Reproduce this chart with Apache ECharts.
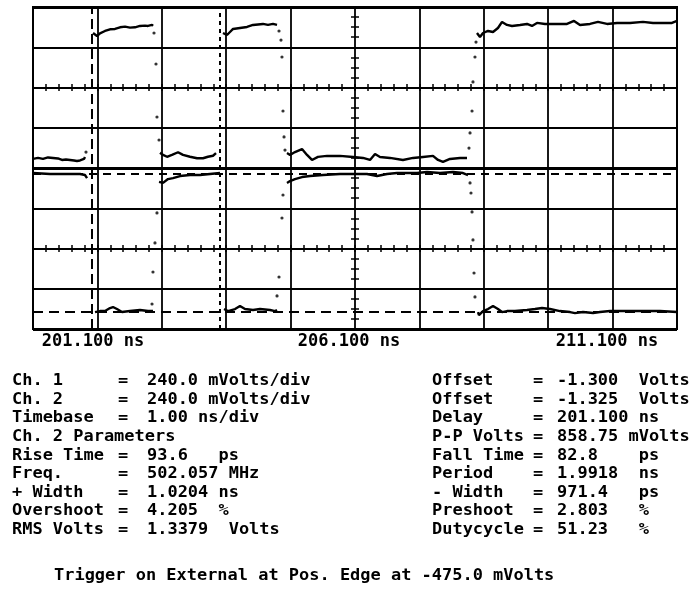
<!DOCTYPE html>
<html>
<head>
<meta charset="utf-8">
<script src="https://cdn.jsdelivr.net/npm/echarts@6/dist/echarts.min.js"></script>
<style>
  html, body { margin: 0; padding: 0; background: #fff; }
  #chart { width: 698px; height: 593px; }
</style>
</head>
<body>
<div id="chart"></div>
<script>
// Horizontal: ns after the 201.100 ns delay, 1 ns/div, 10 divisions.
const timeLabelAt = [0, 5, 10];
const timeLabels = ['201.100 ns', '206.100 ns', '211.100 ns'];

// Vertical scale (V/div) and centre offset (V) of each channel.
const ch1Scale = 0.24, ch1Offset = -1.300;
const ch2Scale = 0.24, ch2Offset = -1.325;

// Channel 1 sampled bursts [ns, V]
const ch1Sweeps = [
  [[0.000,-1.246],[0.078,-1.240],[0.155,-1.246],[0.233,-1.237],[0.311,-1.240],[0.388,-1.243],[0.450,-1.252],[0.512,-1.249],[0.575,-1.252],[0.637,-1.255],[0.683,-1.258],[0.730,-1.255],[0.761,-1.255],[0.792,-1.246],[0.807,-1.234]],
  [[0.932,-0.495],[0.994,-0.513],[1.040,-0.497],[1.118,-0.483],[1.196,-0.473],[1.273,-0.471],[1.351,-0.461],[1.429,-0.457],[1.506,-0.463],[1.584,-0.461],[1.661,-0.453],[1.739,-0.451],[1.786,-0.453],[1.848,-0.447],[1.863,-0.453]],
  [[1.972,-1.209],[2.019,-1.222],[2.081,-1.233],[2.158,-1.222],[2.252,-1.206],[2.329,-1.222],[2.438,-1.233],[2.547,-1.242],[2.640,-1.242],[2.717,-1.233],[2.795,-1.227],[2.842,-1.211]],
  [[2.950,-0.495],[3.012,-0.507],[3.059,-0.489],[3.106,-0.471],[3.214,-0.465],[3.323,-0.459],[3.416,-0.447],[3.494,-0.444],[3.571,-0.441],[3.649,-0.447],[3.727,-0.441],[3.789,-0.447]],
  [[3.944,-1.211],[3.991,-1.222],[4.068,-1.205],[4.177,-1.187],[4.255,-1.222],[4.332,-1.252],[4.425,-1.234],[4.565,-1.228],[4.767,-1.228],[4.969,-1.234],[5.124,-1.240],[5.233,-1.252],[5.311,-1.217],[5.388,-1.234],[5.543,-1.240],[5.745,-1.252],[5.901,-1.240],[6.056,-1.234],[6.211,-1.228],[6.289,-1.252],[6.366,-1.264],[6.475,-1.246],[6.630,-1.240],[6.739,-1.240]],
  [[6.894,-0.495],[6.941,-0.519],[6.988,-0.495],[7.065,-0.483],[7.143,-0.489],[7.220,-0.465],[7.283,-0.429],[7.360,-0.447],[7.438,-0.453],[7.562,-0.447],[7.671,-0.441],[7.748,-0.453],[7.826,-0.435],[7.950,-0.441],[8.137,-0.441],[8.292,-0.441],[8.401,-0.423],[8.494,-0.447],[8.649,-0.441],[8.773,-0.429],[8.913,-0.441],[9.068,-0.435],[9.270,-0.435],[9.472,-0.429],[9.627,-0.435],[9.783,-0.435],[9.922,-0.435],[10.000,-0.423]]
];

// Channel 2 sampled bursts [ns, V]
const ch2Sweeps = [
  [[0.000,-1.355],[0.264,-1.361],[0.528,-1.361],[0.730,-1.361],[0.807,-1.367],[0.839,-1.385]],
  [[0.963,-2.184],[1.040,-2.178],[1.118,-2.178],[1.196,-2.160],[1.242,-2.154],[1.304,-2.166],[1.382,-2.184],[1.506,-2.178],[1.661,-2.172],[1.786,-2.178],[1.863,-2.178]],
  [[1.957,-1.408],[2.019,-1.414],[2.050,-1.403],[2.096,-1.391],[2.174,-1.385],[2.283,-1.373],[2.438,-1.367],[2.593,-1.367],[2.748,-1.361],[2.904,-1.355]],
  [[2.966,-2.166],[3.028,-2.178],[3.137,-2.166],[3.214,-2.148],[3.292,-2.166],[3.416,-2.172],[3.525,-2.166],[3.680,-2.172],[3.758,-2.178],[3.789,-2.172]],
  [[3.944,-1.414],[3.991,-1.403],[4.068,-1.391],[4.177,-1.379],[4.301,-1.373],[4.503,-1.367],[4.767,-1.361],[5.000,-1.361],[5.186,-1.361],[5.342,-1.373],[5.497,-1.361],[5.652,-1.355],[5.807,-1.355],[5.963,-1.355],[6.118,-1.349],[6.320,-1.355],[6.522,-1.349],[6.677,-1.355],[6.755,-1.367]],
  [[6.910,-2.184],[6.925,-2.202],[6.988,-2.178],[7.065,-2.166],[7.143,-2.148],[7.220,-2.166],[7.283,-2.184],[7.360,-2.178],[7.484,-2.178],[7.671,-2.172],[7.795,-2.166],[7.904,-2.160],[8.028,-2.166],[8.183,-2.178],[8.339,-2.184],[8.416,-2.190],[8.540,-2.184],[8.696,-2.190],[8.804,-2.184],[8.960,-2.178],[9.224,-2.178],[9.472,-2.178],[9.736,-2.178],[10.000,-2.184]]
];

// Isolated samples caught on the edges
const ch1EdgeDots = [[0.823,-1.205],[1.879,-0.495],[1.910,-0.680],[1.925,-0.996],[1.957,-1.133],[3.820,-0.483],[3.851,-0.537],[3.866,-0.638],[3.882,-0.960],[3.898,-1.115],[3.913,-1.193],[6.770,-1.181],[6.786,-1.091],[6.817,-0.960],[6.832,-0.787],[6.863,-0.638],[6.879,-0.549]];
const ch2EdgeDots = [[1.848,-2.136],[1.863,-1.945],[1.894,-1.772],[1.925,-1.593],[3.789,-2.088],[3.820,-1.975],[3.866,-1.623],[3.882,-1.486],[6.786,-1.414],[6.801,-1.474],[6.817,-1.587],[6.832,-1.754],[6.848,-1.951],[6.863,-2.094]];

// Start/stop time markers (ns after delay) and channel 2 level markers (V)
const timeMarkers = [0.91, 2.90];
const ch2LevelMarkers = [-1.361, -2.184];

// Readout text
const leftRows = [
  ['Ch. 1', '240.0 mVolts/div'],
  ['Ch. 2', '240.0 mVolts/div'],
  ['Timebase', '1.00 ns/div'],
  ['Ch. 2 Parameters', null],
  ['Rise Time', '93.6   ps'],
  ['Freq.', '502.057 MHz'],
  ['+ Width', '1.0204 ns'],
  ['Overshoot', '4.205  %'],
  ['RMS Volts', '1.3379  Volts']
];
const rightRows = [
  ['Offset', '-1.300  Volts'],
  ['Offset', '-1.325  Volts'],
  ['Delay', '201.100 ns'],
  ['P-P Volts', '858.75 mVolts'],
  ['Fall Time', '82.8    ps'],
  ['Period', '1.9918  ns'],
  ['- Width', '971.4   ps'],
  ['Preshoot', '2.803   %'],
  ['Dutycycle', '51.23   %']
];
const triggerText = 'Trigger on External at Pos. Edge at -475.0 mVolts';

const FONT = 'bold 16px "DejaVu Sans Mono"';
const TEXT_STRETCH = 1.06;
const INK = '#000';
const GRID = { left: 33, top: 7, width: 644, height: 322 };

const chart = echarts.init(document.getElementById('chart'), null, { renderer: 'canvas' });

// Axes used only for the minor graticule ticks along the +/-2 div lines and the centre column
function tickAxisX(position, inside) {
  return {
    type: 'value', gridIndex: 0, min: 0, max: 10, interval: 0.2,
    position: position, offset: -GRID.height / 4,
    axisLine: { show: false, onZero: false }, axisLabel: { show: false }, splitLine: { show: false },
    axisTick: { show: true, inside: inside, length: 3.5, lineStyle: { color: INK, width: 1.5 } }
  };
}
function tickAxisY(inside) {
  return {
    type: 'value', gridIndex: 0, min: -4, max: 4, interval: 0.25,
    position: 'left', offset: -GRID.width / 2,
    axisLine: { show: false, onZero: false }, axisLabel: { show: false }, splitLine: { show: false },
    axisTick: { show: true, inside: inside, length: 4, lineStyle: { color: INK, width: 1.5 } }
  };
}

const labelFont = { fontFamily: 'DejaVu Sans Mono', fontWeight: 'bold', fontSize: 17, color: INK };

const series = [];
ch1Sweeps.forEach(function (seg) {
  series.push({
    type: 'line', xAxisIndex: 0, yAxisIndex: 4, data: seg, showSymbol: false,
    lineStyle: { color: INK, width: 2.4 }, silent: true, z: 5
  });
});
ch2Sweeps.forEach(function (seg) {
  series.push({
    type: 'line', xAxisIndex: 0, yAxisIndex: 5, data: seg, showSymbol: false,
    lineStyle: { color: INK, width: 2.4 }, silent: true, z: 5
  });
});
series.push({
  type: 'scatter', xAxisIndex: 0, yAxisIndex: 4, data: ch1EdgeDots,
  symbol: 'circle', symbolSize: 3.2, itemStyle: { color: INK }, silent: true, z: 5
});
series.push({
  type: 'scatter', xAxisIndex: 0, yAxisIndex: 5, data: ch2EdgeDots,
  symbol: 'circle', symbolSize: 3.2, itemStyle: { color: INK }, silent: true, z: 5
});
// Markers carried by an empty series on the channel 2 scale
series.push({
  type: 'line', xAxisIndex: 0, yAxisIndex: 5, data: [], silent: true,
  markLine: {
    silent: true, symbol: ['none', 'none'], animation: false,
    label: { show: false },
    data: [
      { xAxis: timeMarkers[0], lineStyle: { color: INK, width: 2, type: [10, 5] } },
      { xAxis: timeMarkers[1], lineStyle: { color: INK, width: 2, type: [4, 4] } },
      { yAxis: ch2LevelMarkers[0], lineStyle: { color: INK, width: 2, type: [8, 6] } },
      { yAxis: ch2LevelMarkers[1], lineStyle: { color: INK, width: 2, type: [10, 6] } }
    ]
  }
});

const graphics = [];
function addText(str, x, y) {
  graphics.push({
    type: 'text', x: x, y: y, scaleX: TEXT_STRETCH,
    style: { text: str, x: 0, y: 0, font: FONT, fill: INK, verticalAlign: 'middle', textVerticalAlign: 'middle' }
  });
}
const rowY0 = 381, rowStep = 18.6;
function addRows(rows, xLabel, xEq, xVal) {
  rows.forEach(function (r, i) {
    const y = rowY0 + i * rowStep;
    addText(r[0], xLabel, y);
    if (r[1] !== null) {
      addText('=', xEq, y);
      addText(r[1], xVal, y);
    }
  });
}
addRows(leftRows, 12, 118, 147);
addRows(rightRows, 432, 533, 557);
addText(triggerText, 54, 576);

chart.setOption({
  animation: false,
  backgroundColor: '#fff',
  grid: [{ left: GRID.left, top: GRID.top, width: GRID.width, height: GRID.height, show: true, borderColor: INK, borderWidth: 2, backgroundColor: 'transparent' }],
  xAxis: [
    {
      type: 'value', gridIndex: 0, min: 0, max: 10, interval: 1, position: 'bottom',
      axisLine: { show: false, onZero: false }, axisTick: { show: false },
      splitLine: { show: true, lineStyle: { color: INK, width: 1.8 } },
      axisLabel: {
        show: true, margin: 4, showMinLabel: true, showMaxLabel: true,
        formatter: function (v) {
          const i = timeLabelAt.indexOf(Math.round(v));
          if (i < 0 || Math.abs(v - timeLabelAt[i]) > 1e-6) return '';
          return ['{l|', '{c|', '{r|'][i] + timeLabels[i] + '}';
        },
        rich: {
          l: Object.assign({ padding: [0, 0, 0, 120] }, labelFont),
          c: Object.assign({ padding: [0, 12, 0, 0] }, labelFont),
          r: Object.assign({ padding: [0, 140, 0, 0] }, labelFont)
        }
      }
    },
    tickAxisX('top', false),
    tickAxisX('top', true),
    tickAxisX('bottom', false),
    tickAxisX('bottom', true)
  ],
  yAxis: [
    {
      type: 'value', gridIndex: 0, min: -4, max: 4, interval: 1,
      axisLine: { show: false, onZero: false }, axisTick: { show: false }, axisLabel: { show: false },
      splitLine: { show: true, lineStyle: { color: INK, width: 1.8 } }
    },
    {
      type: 'value', gridIndex: 0, min: -4, max: 4, interval: 4,
      axisLine: { show: false, onZero: false }, axisTick: { show: false }, axisLabel: { show: false },
      splitLine: { show: true, lineStyle: { color: INK, width: 2.8 } }
    },
    tickAxisY(false),
    tickAxisY(true),
    {
      type: 'value', gridIndex: 0, show: false,
      min: ch1Offset - 4 * ch1Scale, max: ch1Offset + 4 * ch1Scale,
      splitLine: { show: false }
    },
    {
      type: 'value', gridIndex: 0, show: false,
      min: ch2Offset - 4 * ch2Scale, max: ch2Offset + 4 * ch2Scale,
      splitLine: { show: false }
    }
  ],
  series: series,
  graphic: { elements: graphics }
});
</script>
</body>
</html>
